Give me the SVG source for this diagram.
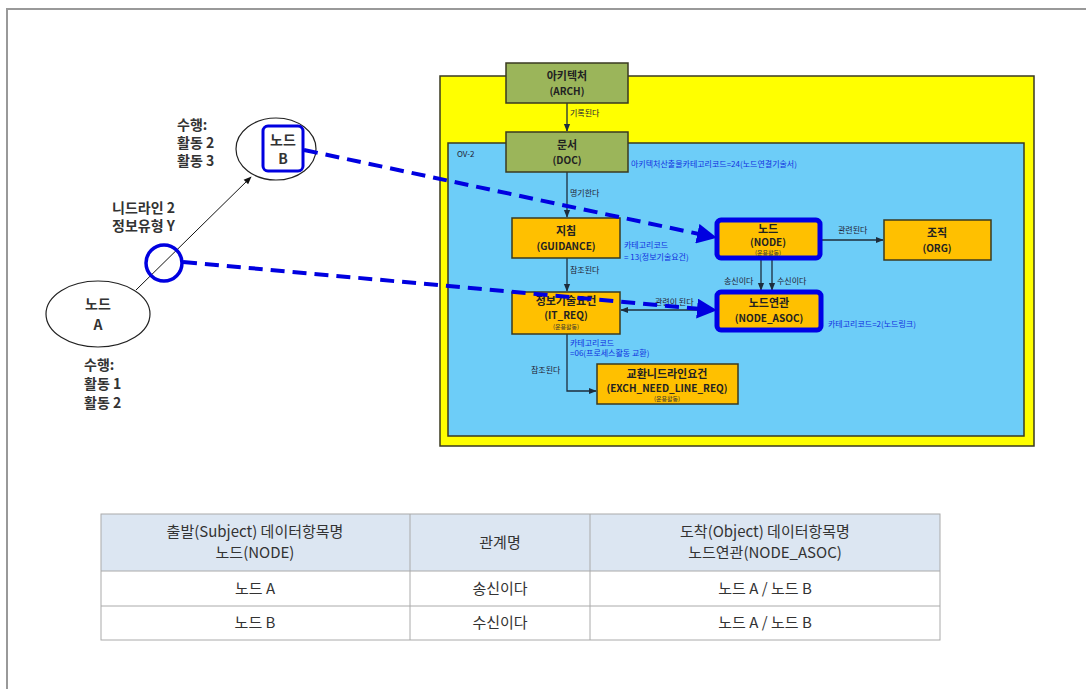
<svg xmlns="http://www.w3.org/2000/svg" width="1086" height="689" viewBox="0 0 1086 689">
<defs>
<style>
text{font-family:"Noto Sans CJK KR","Noto Sans",sans-serif;}
.box{stroke:#3a3a20;stroke-width:1.5;}
.olive{fill:#9bb55a;}
.orange{fill:#ffc000;}
.hl{stroke:#0000e6;stroke-width:5;}
.t1{font-size:11px;font-weight:bold;fill:#222;text-anchor:middle;}
.t2{font-size:10px;font-weight:bold;fill:#222;text-anchor:middle;}
.t3{font-size:6px;fill:#333;text-anchor:middle;}
.lbl{font-size:8px;fill:#223;}
.blbl{font-size:8px;fill:#1030e0;}
.big{font-size:14px;font-weight:bold;fill:#333;}
.tb{font-size:15px;fill:#333;text-anchor:middle;}
.ln{stroke:#1d2d3d;stroke-width:1.3;fill:none;}
.dash{stroke:#0000e0;stroke-width:4;stroke-dasharray:14 8;fill:none;}
</style>
<marker id="ah" viewBox="0 0 10 10" refX="9" refY="5" markerWidth="6" markerHeight="6" orient="auto-start-reverse"><path d="M0,1 L10,5 L0,9 z" fill="#1d2d3d"/></marker>
<marker id="ahk" viewBox="0 0 10 10" refX="9" refY="5" markerWidth="8" markerHeight="8" orient="auto"><path d="M0,1 L10,5 L0,9 z" fill="#111"/></marker>
<marker id="ahb" viewBox="0 0 10 10" refX="8" refY="5" markerWidth="5" markerHeight="5" orient="auto"><path d="M0,0 L10,5 L0,10 z" fill="#0000e0"/></marker>
</defs>
<rect width="1086" height="689" fill="#fff"/>
<path d="M7,689 V9 H1086" fill="none" stroke="#999" stroke-width="2"/>

<g id="frame">
<rect x="440" y="76" width="594" height="370" fill="#ffff00" stroke="#3a3a20" stroke-width="1.5"/>
<rect x="448" y="143" width="576" height="293" fill="#6dcdf8" stroke="#3a3a20" stroke-width="1.5"/>
<text x="457" y="157" class="lbl">OV-2</text>
</g>

<g id="connectors">
<line x1="567" y1="103" x2="567" y2="131" class="ln" marker-end="url(#ah)"/>
<line x1="567" y1="172" x2="567" y2="217" class="ln" marker-end="url(#ah)"/>
<line x1="567" y1="258" x2="567" y2="291" class="ln" marker-end="url(#ah)"/>
<line x1="621" y1="310" x2="715" y2="310" class="ln" marker-start="url(#ah)" marker-end="url(#ah)"/>
<line x1="820" y1="240" x2="883" y2="240" class="ln" marker-end="url(#ah)"/>
<line x1="761" y1="258" x2="761" y2="290" class="ln" marker-end="url(#ah)"/>
<line x1="772" y1="258" x2="772" y2="290" class="ln" marker-end="url(#ah)"/>
<polyline points="567,334 567,391 596,391" class="ln" marker-end="url(#ah)"/>
<line x1="136" y1="290" x2="251" y2="177" stroke="#111" stroke-width="1" marker-end="url(#ahk)"/>
<text x="570" y="116" class="lbl">기록된다</text>
<text x="570" y="196" class="lbl">명기한다</text>
<text x="570" y="273" class="lbl">참조된다</text>
<text x="655" y="305" class="lbl">관련이 된다</text>
<text x="838" y="233" class="lbl">관련된다</text>
<text x="724" y="284" class="lbl">송신이다</text>
<text x="777" y="284" class="lbl">수신이다</text>
<text x="531" y="373" class="lbl">참조된다</text>
<text x="631" y="167" class="blbl">아키텍처산출물카테고리코드=24(노드연결기술서)</text>
<text x="624" y="248" class="blbl">카테고리코드</text>
<text x="624" y="260" class="blbl">= 13(정보기술요건)</text>
<text x="828" y="327" class="blbl">카테고리코드=2(노드링크)</text>
<text x="570" y="346" class="blbl">카테고리코드</text>
<text x="570" y="356" class="blbl">=06(프로세스활동 교환)</text>
</g>

<g id="arch"><rect x="506" y="63" width="122" height="40" class="box olive"/><text x="567" y="80" class="t1">아키텍처</text><text x="567" y="95" class="t2">(ARCH)</text></g>
<g id="doc"><rect x="506" y="132" width="122" height="40" class="box olive"/><text x="567" y="149" class="t1">문서</text><text x="567" y="164" class="t2">(DOC)</text></g>
<g id="guidance"><rect x="512" y="218" width="108" height="40" class="box orange"/><text x="566" y="235" class="t1">지침</text><text x="566" y="250" class="t2">(GUIDANCE)</text></g>
<g id="it_req"><rect x="512" y="292" width="108" height="42" class="box orange"/><text x="566" y="305" class="t1">정보기술요건</text><text x="566" y="319" class="t2">(IT_REQ)</text><text x="566" y="329" class="t3">(운용활동)</text></g>
<g id="node"><rect x="717" y="220" width="103" height="38" rx="4" class="orange hl"/><text x="768" y="233" class="t1">노드</text><text x="768" y="246" class="t2">(NODE)</text><text x="768" y="255" class="t3">(운용활동)</text></g>
<g id="org"><rect x="884" y="220" width="107" height="40" class="box orange"/><text x="937" y="237" class="t1">조직</text><text x="937" y="252" class="t2">(ORG)</text></g>
<g id="node_asoc"><rect x="717" y="292" width="104" height="38" rx="4" class="orange hl"/><text x="769" y="307" class="t1">노드연관</text><text x="769" y="322" class="t2">(NODE_ASOC)</text></g>
<g id="exch"><rect x="597" y="364" width="141" height="40" class="box orange"/><text x="667" y="378" class="t1">교환니드라인요건</text><text x="667" y="392" class="t2">(EXCH_NEED_LINE_REQ)</text><text x="667" y="401" class="t3">(운용활동)</text></g>

<g id="nodeA"><ellipse cx="98" cy="314" rx="52" ry="33" fill="#fff" stroke="#222" stroke-width="1.2"/><text x="98" y="309" class="big" text-anchor="middle">노드</text><text x="98" y="330" class="big" text-anchor="middle">A</text></g>
<g id="nodeB"><ellipse cx="276" cy="149" rx="40" ry="31" fill="#fff" stroke="#222" stroke-width="1.2"/><rect x="263" y="126" width="40" height="45" rx="5" fill="#fff" stroke="#0000e0" stroke-width="3"/><text x="283" y="145" class="big" text-anchor="middle" font-size="13">노드</text><text x="283" y="164" class="big" text-anchor="middle" font-size="13">B</text></g>
<g id="needline"><circle cx="164" cy="263" r="18" fill="none" stroke="#0000e0" stroke-width="3.5"/></g>

<g id="labels">
<text x="177" y="130" class="big">수행:</text>
<text x="177" y="148" class="big">활동 2</text>
<text x="177" y="166" class="big">활동 3</text>
<text x="112" y="213" class="big">니드라인 2</text>
<text x="112" y="231" class="big">정보유형 Y</text>
<text x="84" y="370" class="big">수행:</text>
<text x="84" y="389" class="big">활동 1</text>
<text x="84" y="408" class="big">활동 2</text>
</g>

<g id="trace">
<path d="M304,150 L713,237" class="dash" marker-end="url(#ahb)"/>
<path d="M183,262 L713,310" class="dash" marker-end="url(#ahb)"/>
</g>

<g id="table">
<rect x="101" y="514" width="839" height="57" fill="#dce6f2"/>
<rect x="101" y="571" width="839" height="69" fill="#fff"/>
<g stroke="#aaa" stroke-width="1" fill="none">
<rect x="101" y="514" width="839" height="126"/>
<line x1="101" y1="571" x2="940" y2="571"/>
<line x1="101" y1="606" x2="940" y2="606"/>
<line x1="410" y1="514" x2="410" y2="640"/>
<line x1="590" y1="514" x2="590" y2="640"/>
</g>
<text x="255" y="537" class="tb">출발(Subject) 데이터항목명</text>
<text x="255" y="558" class="tb">노드(NODE)</text>
<text x="500" y="548" class="tb">관계명</text>
<text x="765" y="537" class="tb">도착(Object) 데이터항목명</text>
<text x="765" y="558" class="tb">노드연관(NODE_ASOC)</text>
<text x="255" y="594" class="tb">노드 A</text>
<text x="500" y="594" class="tb">송신이다</text>
<text x="765" y="594" class="tb">노드 A / 노드 B</text>
<text x="255" y="628" class="tb">노드 B</text>
<text x="500" y="628" class="tb">수신이다</text>
<text x="765" y="628" class="tb">노드 A / 노드 B</text>
</g>
</svg>
